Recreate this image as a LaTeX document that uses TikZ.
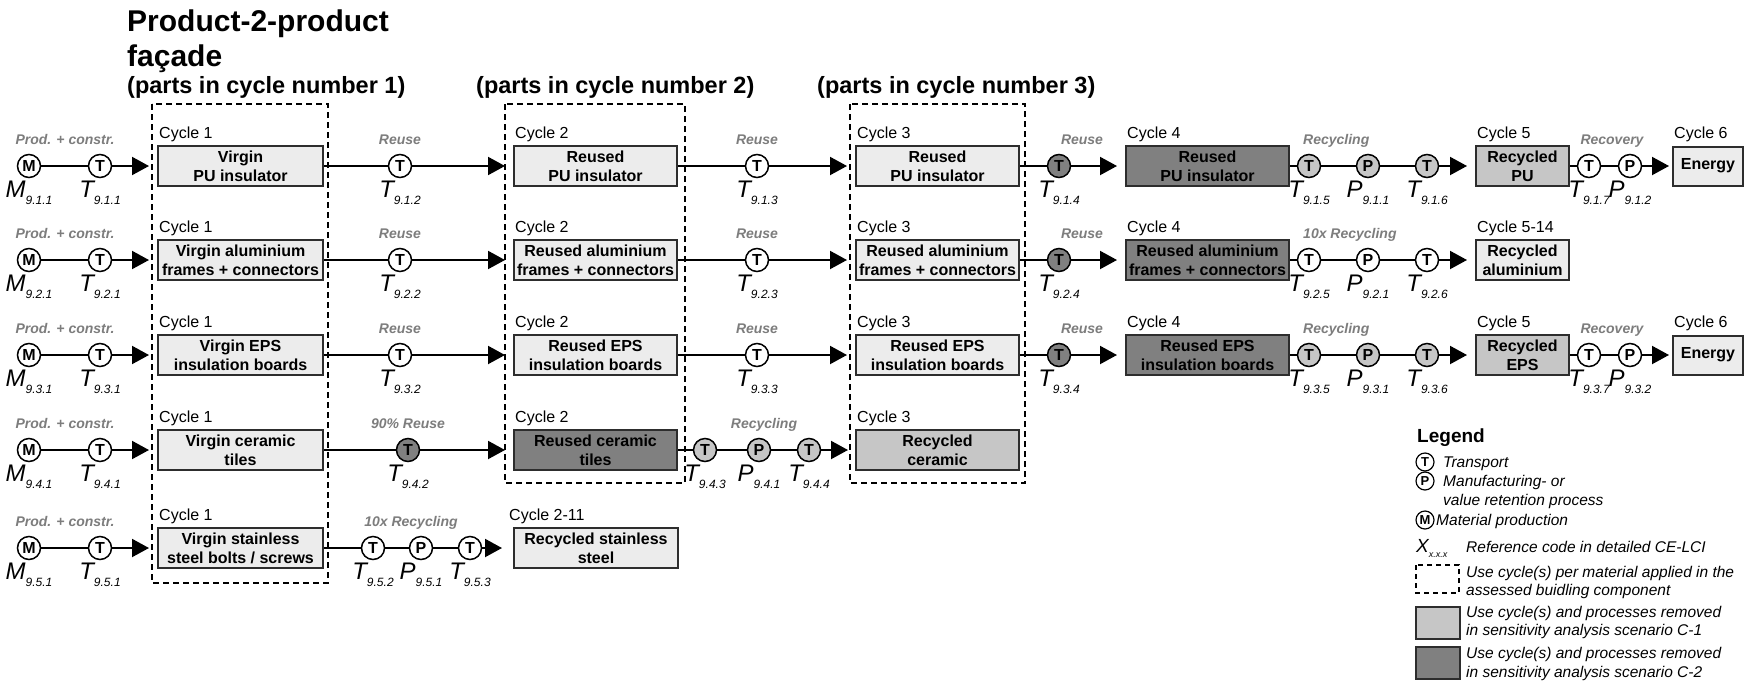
\documentclass[tikz,border=0pt]{standalone}
\usepackage{fontspec}
\setmainfont{Liberation Sans}
\usetikzlibrary{arrows.meta}
\definecolor{lightfill}{RGB}{236,236,236}
\definecolor{midfill}{RGB}{198,198,198}
\definecolor{darkfill}{RGB}{128,128,128}
\definecolor{procgray}{RGB}{125,125,125}
\definecolor{edgecol}{RGB}{45,45,45}
\newcommand\myfs[2]{\fontsize{#1}{#2}\selectfont}
\newcommand\refl[4]{\node[reflab] (#1) at ([yshift=-31pt]#2.center) {#3\raisebox{-7pt}{\myfs{12}{12}#4}};}
\newcommand\cyc[3]{\node[cyclab] (#1) at ([xshift=2pt,yshift=28pt]#2.west) {#3};}
\begin{document}
\begin{tikzpicture}[x=1pt,y=-1pt,
  box/.style={draw=edgecol, line width=2pt, minimum height=40pt, inner sep=0pt, align=center, font=\myfs{16}{19}\bfseries, anchor=west},
  lbox/.style={box, fill=lightfill},
  mbox/.style={box, fill=midfill},
  dbox/.style={box, fill=darkfill},
  circ/.style={circle, draw=black, line width=1.5pt, minimum size=23pt, inner sep=0pt, font=\myfs{16}{16}\bfseries, fill=white},
  wc/.style={circ},
  mc/.style={circ, fill=midfill},
  dc/.style={circ, fill=darkfill},
  conn/.style={line width=2pt, draw=black},
  arr/.style={conn, -{Triangle[length=17pt,width=18pt]}, shorten >=8pt},
  proc/.style={anchor=base, inner sep=0pt, font=\myfs{14}{14}\bfseries\itshape, text=procgray},
  cyclab/.style={anchor=base west, inner sep=0pt, font=\myfs{16}{16}},
  reflab/.style={anchor=base, inner sep=0pt, font=\myfs{24}{24}\itshape},
  dashbox/.style={draw=black, line width=1.3pt, dash pattern=on 6pt off 4pt},
  legtext/.style={anchor=base west, inner sep=0pt, font=\myfs{15.5}{15.5}\itshape},
  legc/.style={circle, draw=black, line width=1.2pt, minimum size=18pt, inner sep=0pt, font=\myfs{13}{13}\bfseries, fill=white},
  ttl/.style={anchor=base west, inner sep=0pt, font=\myfs{30}{30}\bfseries},
  hdr/.style={anchor=base west, inner sep=0pt, font=\myfs{23.5}{23.5}\bfseries}
]
\fill[white] (0,0) rectangle (1747,691);
\useasboundingbox (0,0) rectangle (1747,691);

% titles
\node[ttl] (title1) at (127,31) {Product-2-product};
\node[ttl] (title2) at (127,66) {façade};
\node[hdr] (h1) at (127,93) {(parts in cycle number 1)};
\node[hdr] (h2) at (476,93) {(parts in cycle number 2)};
\node[hdr] (h3) at (817,93) {(parts in cycle number 3)};

% dashed boxes
\draw[dashbox] (152,104) rectangle (328,583);
\draw[dashbox] (505,104) rectangle (685,483);
\draw[dashbox] (850,104) rectangle (1025,483);

% ---------------- Row 1 (PU)
\node[wc] (M1) at (29,166) {M};
\node[wc] (T11) at (100,166) {T};
\node[lbox, minimum width=165pt] (a11) at (157,166) {Virgin\\PU insulator};
\node[wc] (T12) at (400,166) {T};
\node[lbox, minimum width=163pt] (a12) at (513,166) {Reused\\PU insulator};
\node[wc] (T13) at (757,166) {T};
\node[lbox, minimum width=163pt] (a13) at (855,166) {Reused\\PU insulator};
\node[dc] (T14) at (1059,166) {T};
\node[dbox, minimum width=163pt] (a14) at (1125,166) {Reused\\PU insulator};
\node[mc] (T15) at (1309,166) {T};
\node[mc] (P11) at (1368,166) {P};
\node[mc] (T16) at (1427,166) {T};
\node[mbox, minimum width=93pt] (a15) at (1475,166) {Recycled\\PU};
\node[wc] (T17) at (1589,166) {T};
\node[wc] (P12) at (1630,166) {P};
\node[lbox, minimum width=70pt, minimum height=39pt] (a16) at (1672,166) {Energy};
\draw[conn] (M1)--(T11); \draw[arr] (T11)--(a11);
\draw[conn] (a11)--(T12); \draw[arr] (T12)--(a12);
\draw[conn] (a12)--(T13); \draw[arr] (T13)--(a13);
\draw[conn] (a13)--(T14); \draw[arr] (T14)--(a14);
\draw[conn] (a14)--(T15)--(P11)--(T16); \draw[arr] (T16)--(a15);
\draw[conn] (a15)--(T17)--(P12); \draw[arr,shorten >=3pt] (P12)--(a16);
\node[proc] (g11) at (65,144) {Prod. + constr.};
\node[proc] (g12) at (400,144) {Reuse};
\node[proc] (g13) at (757,144) {Reuse};
\node[proc] (g14) at (1082,144) {Reuse};
\node[proc, anchor=base west] (g15) at (1303,144) {Recycling};
\node[proc] (g16) at (1612,144) {Recovery};
\cyc{c11}{a11}{Cycle 1}
\cyc{c12}{a12}{Cycle 2}
\cyc{c13}{a13}{Cycle 3}
\cyc{c14}{a14}{Cycle 4}
\cyc{c15}{a15}{Cycle 5}
\cyc{c16}{a16}{Cycle 6}
\refl{r11}{M1}{M}{9.1.1}
\refl{r12}{T11}{T}{9.1.1}
\refl{r13}{T12}{T}{9.1.2}
\refl{r14}{T13}{T}{9.1.3}
\refl{r15}{T14}{T}{9.1.4}
\refl{r16}{T15}{T}{9.1.5}
\refl{r17}{P11}{P}{9.1.1}
\refl{r18}{T16}{T}{9.1.6}
\refl{r19}{T17}{T}{9.1.7}
\refl{r1a}{P12}{P}{9.1.2}

% ---------------- Row 2 (aluminium)
\node[wc] (M2) at (29,260) {M};
\node[wc] (T21) at (100,260) {T};
\node[lbox, minimum width=165pt] (a21) at (157,260) {Virgin aluminium\\frames + connectors};
\node[wc] (T22) at (400,260) {T};
\node[lbox, minimum width=163pt] (a22) at (513,260) {Reused aluminium\\frames + connectors};
\node[wc] (T23) at (757,260) {T};
\node[lbox, minimum width=163pt] (a23) at (855,260) {Reused aluminium\\frames + connectors};
\node[dc] (T24) at (1059,260) {T};
\node[dbox, minimum width=163pt] (a24) at (1125,260) {Reused aluminium\\frames + connectors};
\node[wc] (T25) at (1309,260) {T};
\node[wc] (P21) at (1368,260) {P};
\node[wc] (T26) at (1427,260) {T};
\node[lbox, minimum width=93pt] (a25) at (1475,260) {Recycled\\aluminium};
\draw[conn] (M2)--(T21); \draw[arr] (T21)--(a21);
\draw[conn] (a21)--(T22); \draw[arr] (T22)--(a22);
\draw[conn] (a22)--(T23); \draw[arr] (T23)--(a23);
\draw[conn] (a23)--(T24); \draw[arr] (T24)--(a24);
\draw[conn] (a24)--(T25)--(P21)--(T26); \draw[arr] (T26)--(a25);
\node[proc] (g21) at (65,238) {Prod. + constr.};
\node[proc] (g22) at (400,238) {Reuse};
\node[proc] (g23) at (757,238) {Reuse};
\node[proc] (g24) at (1082,238) {Reuse};
\node[proc, anchor=base west] (g25) at (1303,238) {10x Recycling};
\cyc{c21}{a21}{Cycle 1}
\cyc{c22}{a22}{Cycle 2}
\cyc{c23}{a23}{Cycle 3}
\cyc{c24}{a24}{Cycle 4}
\cyc{c25}{a25}{Cycle 5-14}
\refl{r21}{M2}{M}{9.2.1}
\refl{r22}{T21}{T}{9.2.1}
\refl{r23}{T22}{T}{9.2.2}
\refl{r24}{T23}{T}{9.2.3}
\refl{r25}{T24}{T}{9.2.4}
\refl{r26}{T25}{T}{9.2.5}
\refl{r27}{P21}{P}{9.2.1}
\refl{r28}{T26}{T}{9.2.6}

% ---------------- Row 3 (EPS)
\node[wc] (M3) at (29,355) {M};
\node[wc] (T31) at (100,355) {T};
\node[lbox, minimum width=165pt] (a31) at (157,355) {Virgin EPS\\insulation boards};
\node[wc] (T32) at (400,355) {T};
\node[lbox, minimum width=163pt] (a32) at (513,355) {Reused EPS\\insulation boards};
\node[wc] (T33) at (757,355) {T};
\node[lbox, minimum width=163pt] (a33) at (855,355) {Reused EPS\\insulation boards};
\node[dc] (T34) at (1059,355) {T};
\node[dbox, minimum width=163pt] (a34) at (1125,355) {Reused EPS\\insulation boards};
\node[mc] (T35) at (1309,355) {T};
\node[mc] (P31) at (1368,355) {P};
\node[mc] (T36) at (1427,355) {T};
\node[mbox, minimum width=93pt] (a35) at (1475,355) {Recycled\\EPS};
\node[wc] (T37) at (1589,355) {T};
\node[wc] (P32) at (1630,355) {P};
\node[lbox, minimum width=70pt, minimum height=39pt] (a36) at (1672,355) {Energy};
\draw[conn] (M3)--(T31); \draw[arr] (T31)--(a31);
\draw[conn] (a31)--(T32); \draw[arr] (T32)--(a32);
\draw[conn] (a32)--(T33); \draw[arr] (T33)--(a33);
\draw[conn] (a33)--(T34); \draw[arr] (T34)--(a34);
\draw[conn] (a34)--(T35)--(P31)--(T36); \draw[arr] (T36)--(a35);
\draw[conn] (a35)--(T37)--(P32); \draw[arr,shorten >=3pt] (P32)--(a36);
\node[proc] (g31) at (65,333) {Prod. + constr.};
\node[proc] (g32) at (400,333) {Reuse};
\node[proc] (g33) at (757,333) {Reuse};
\node[proc] (g34) at (1082,333) {Reuse};
\node[proc, anchor=base west] (g35) at (1303,333) {Recycling};
\node[proc] (g36) at (1612,333) {Recovery};
\cyc{c31}{a31}{Cycle 1}
\cyc{c32}{a32}{Cycle 2}
\cyc{c33}{a33}{Cycle 3}
\cyc{c34}{a34}{Cycle 4}
\cyc{c35}{a35}{Cycle 5}
\cyc{c36}{a36}{Cycle 6}
\refl{r31}{M3}{M}{9.3.1}
\refl{r32}{T31}{T}{9.3.1}
\refl{r33}{T32}{T}{9.3.2}
\refl{r34}{T33}{T}{9.3.3}
\refl{r35}{T34}{T}{9.3.4}
\refl{r36}{T35}{T}{9.3.5}
\refl{r37}{P31}{P}{9.3.1}
\refl{r38}{T36}{T}{9.3.6}
\refl{r39}{T37}{T}{9.3.7}
\refl{r3a}{P32}{P}{9.3.2}

% ---------------- Row 4 (ceramic)
\node[wc] (M4) at (29,450) {M};
\node[wc] (T41) at (100,450) {T};
\node[lbox, minimum width=165pt] (a41) at (157,450) {Virgin ceramic\\tiles};
\node[dc] (T42) at (408,450) {T};
\node[dbox, minimum width=163pt] (a42) at (513,450) {Reused ceramic\\tiles};
\node[mc] (T43) at (705,450) {T};
\node[mc] (P41) at (759,450) {P};
\node[mc] (T44) at (809,450) {T};
\node[mbox, minimum width=163pt] (a43) at (855,450) {Recycled\\ceramic};
\draw[conn] (M4)--(T41); \draw[arr] (T41)--(a41);
\draw[conn] (a41)--(T42); \draw[arr] (T42)--(a42);
\draw[conn] (a42)--(T43)--(P41)--(T44); \draw[arr,shorten >=7pt] (T44)--(a43);
\node[proc] (g41) at (65,428) {Prod. + constr.};
\node[proc] (g42) at (408,428) {90\% Reuse};
\node[proc] (g43) at (764,428) {Recycling};
\cyc{c41}{a41}{Cycle 1}
\cyc{c42}{a42}{Cycle 2}
\cyc{c43}{a43}{Cycle 3}
\refl{r41}{M4}{M}{9.4.1}
\refl{r42}{T41}{T}{9.4.1}
\refl{r43}{T42}{T}{9.4.2}
\refl{r44}{T43}{T}{9.4.3}
\refl{r45}{P41}{P}{9.4.1}
\refl{r46}{T44}{T}{9.4.4}

% ---------------- Row 5 (stainless steel)
\node[wc] (M5) at (29,548) {M};
\node[wc] (T51) at (100,548) {T};
\node[lbox, minimum width=165pt] (a51) at (157,548) {Virgin stainless\\steel bolts / screws};
\node[wc] (T52) at (373,548) {T};
\node[wc] (P51) at (421,548) {P};
\node[wc] (T53) at (470,548) {T};
\node[lbox, minimum width=164pt] (a52) at (513,548) {Recycled stainless\\steel};
\draw[conn] (M5)--(T51); \draw[arr] (T51)--(a51);
\draw[conn] (a51)--(T52)--(P51)--(T53); \draw[arr,shorten >=11pt] (T53)--(a52);
\node[proc] (g51) at (65,526) {Prod. + constr.};
\node[proc] (g52) at (411,526) {10x Recycling};
\cyc{c51}{a51}{Cycle 1}
\node[cyclab] (c52) at (509,520) {Cycle 2-11};
\refl{r51}{M5}{M}{9.5.1}
\refl{r52}{T51}{T}{9.5.1}
\refl{r53}{T52}{T}{9.5.2}
\refl{r54}{P51}{P}{9.5.1}
\refl{r55}{T53}{T}{9.5.3}

% ---------------- Legend
\node[anchor=base west, inner sep=0pt, font=\myfs{19}{19}\bfseries] (leg) at (1417,442) {Legend};
\node[legc] (LT) at (1425,462) {T};
\node[legtext] (LTt) at (1443,467) {Transport};
\node[legc] (LP) at (1425,481) {P};
\node[legtext] (LPt1) at (1443,486) {Manufacturing- or};
\node[legtext] (LPt2) at (1443,505) {value retention process};
\node[legc] (LM) at (1425,520) {M};
\node[legtext] (LMt) at (1436,525) {Material production};
\node[anchor=base west, inner sep=0pt, font=\myfs{19}{19}\itshape] (LX) at (1416,552) {X\raisebox{-5pt}{\myfs{9}{9}x.x.x}};
\node[legtext] (LXt) at (1466,552) {Reference code in detailed CE-LCI};
\draw[dashbox, line width=1.1pt, dash pattern=on 5pt off 4pt] (1416,565) rectangle (1459,593);
\node[legtext] (LD1) at (1466,577) {Use cycle(s) per material applied in the};
\node[legtext] (LD2) at (1466,595) {assessed buidling component};
\draw[draw=edgecol, line width=2pt, fill=midfill] (1416,607) rectangle (1460,639);
\node[legtext] (LC1a) at (1466,617) {Use cycle(s) and processes removed};
\node[legtext] (LC1b) at (1466,635) {in sensitivity analysis scenario C-1};
\draw[draw=edgecol, line width=2pt, fill=darkfill] (1416,647) rectangle (1460,679);
\node[legtext] (LC2a) at (1466,658) {Use cycle(s) and processes removed};
\node[legtext] (LC2b) at (1466,677) {in sensitivity analysis scenario C-2};
\end{tikzpicture}
\end{document}
